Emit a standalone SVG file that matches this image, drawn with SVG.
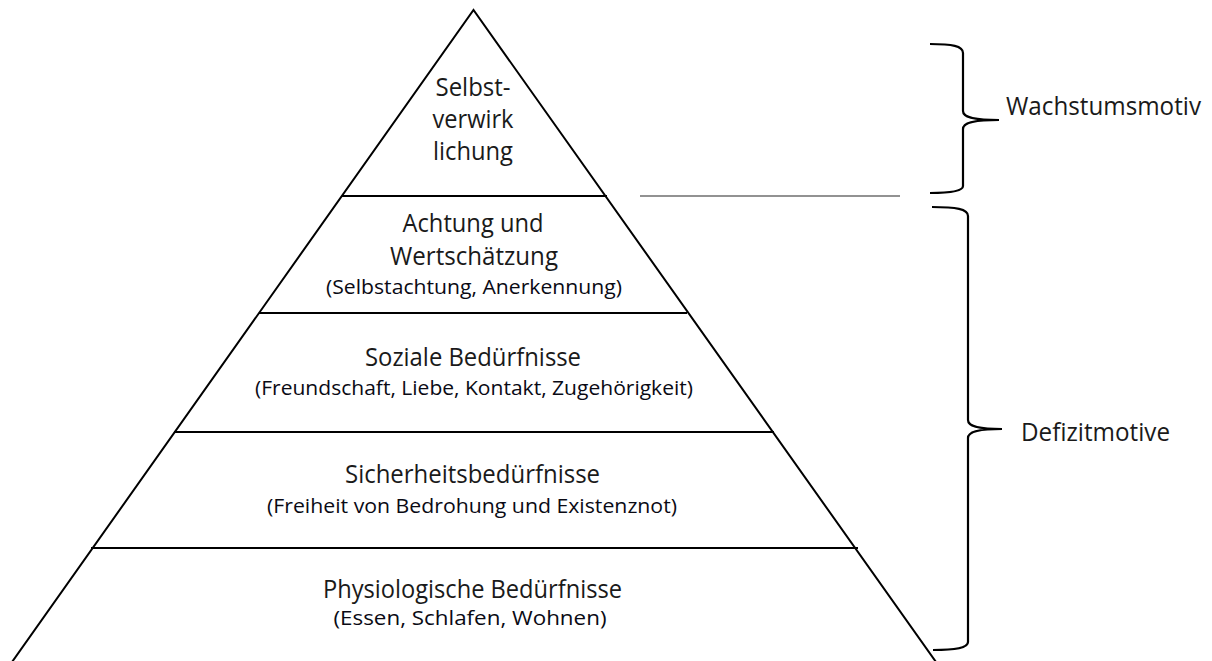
<svg xmlns="http://www.w3.org/2000/svg" width="1212" height="661" viewBox="0 0 1212 661">
<style>
.edge{fill:none;stroke:#000;stroke-width:2;stroke-linecap:round}
.tier{stroke:#000;stroke-width:2}
.brace{fill:none;stroke:#000;stroke-width:2.2;stroke-linejoin:round}
.sep{stroke:#6e6e6e;stroke-width:1.5}
.m{font-family:"Open Sans","Noto Sans",sans-serif;font-size:25px;fill:#1a1a1a;text-anchor:middle}
.s{font-family:"Open Sans","Noto Sans",sans-serif;font-size:20px;fill:#0a0a14;text-anchor:middle}
.l{font-family:"Open Sans","Noto Sans",sans-serif;font-size:25px;fill:#1a1a1a}
</style>
<rect width="1212" height="661" fill="#fff"/>
<g id="pyramid">
<polyline class="edge" points="12,662 473.5,10 936,662"/>
</g>
<g id="tier-selbstverwirklichung">
<text class="m" x="473" y="96" textLength="75" lengthAdjust="spacingAndGlyphs">Selbst-</text>
<text class="m" x="473" y="128" textLength="81" lengthAdjust="spacingAndGlyphs">verwirk</text>
<text class="m" x="473" y="160" textLength="80" lengthAdjust="spacingAndGlyphs">lichung</text>
</g>
<g id="tier-achtung">
<line class="tier" x1="342" y1="196" x2="607" y2="196"/>
<text class="m" x="473" y="232" textLength="141" lengthAdjust="spacingAndGlyphs">Achtung und</text>
<text class="m" x="474" y="265" textLength="168" lengthAdjust="spacingAndGlyphs">Wertschätzung</text>
<text class="s" x="474" y="294" textLength="296" lengthAdjust="spacingAndGlyphs">(Selbstachtung, Anerkennung)</text>
</g>
<g id="tier-soziale">
<line class="tier" x1="259" y1="313" x2="687" y2="313"/>
<text class="m" x="473" y="366" textLength="216" lengthAdjust="spacingAndGlyphs">Soziale Bedürfnisse</text>
<text class="s" x="474" y="395" textLength="438" lengthAdjust="spacingAndGlyphs">(Freundschaft, Liebe, Kontakt, Zugehörigkeit)</text>
</g>
<g id="tier-sicherheit">
<line class="tier" x1="174" y1="432" x2="774" y2="432"/>
<text class="m" x="472.5" y="483" textLength="255" lengthAdjust="spacingAndGlyphs">Sicherheitsbedürfnisse</text>
<text class="s" x="472" y="513" textLength="410" lengthAdjust="spacingAndGlyphs">(Freiheit von Bedrohung und Existenznot)</text>
</g>
<g id="tier-physiologisch">
<line class="tier" x1="91" y1="548" x2="858" y2="548"/>
<text class="m" x="472.5" y="598" textLength="299" lengthAdjust="spacingAndGlyphs">Physiologische Bedürfnisse</text>
<text class="s" x="470" y="625" textLength="273" lengthAdjust="spacingAndGlyphs">(Essen, Schlafen, Wohnen)</text>
</g>
<g id="connectors">
<line class="sep" x1="640" y1="196" x2="900" y2="196"/>
<path class="brace" d="M930,44 C952,44 963,46 963,53 L963,111 C963,117 972,120 999,120 M999,120 C972,120 963,123 963,129 L963,186 C963,191 952,193 930,193"/>
<path class="brace" d="M932,207 C956,207 968,209 968,216 L968,420 C968,426 977,429 1002,429 M1002,429 C977,429 968,432 968,438 L968,642 C968,648 956,650 933,650"/>
</g>
<g id="label-wachstum">
<text class="l" x="1006" y="115" textLength="195" lengthAdjust="spacingAndGlyphs">Wachstumsmotiv</text>
</g>
<g id="label-defizit">
<text class="l" x="1021" y="441" textLength="149" lengthAdjust="spacingAndGlyphs">Defizitmotive</text>
</g>
</svg>
